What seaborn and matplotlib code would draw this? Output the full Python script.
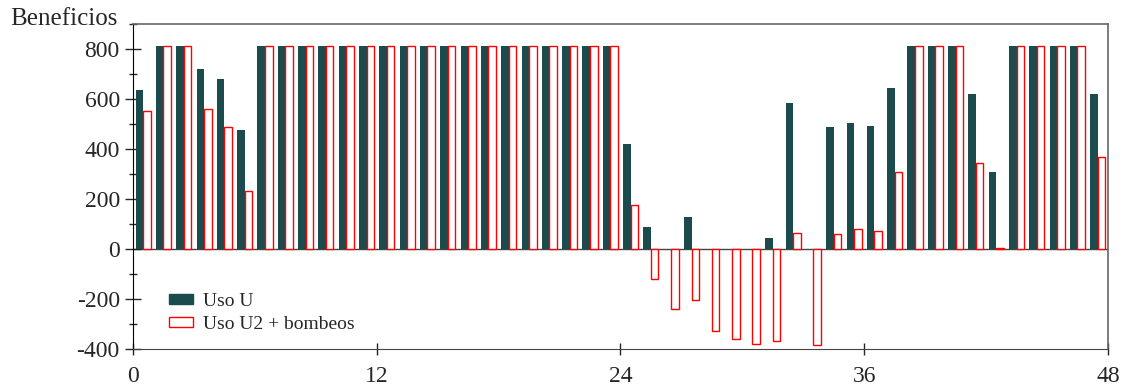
import numpy as np
import pandas as pd
import matplotlib
matplotlib.use("Agg")
import matplotlib.pyplot as plt
from matplotlib.patches import Patch
from matplotlib.ticker import MultipleLocator
import seaborn as sns

# hourly profits, 48 hours
horas = np.arange(1, 49)
uso_u = [636, 812, 812, 720, 681, 476, 812, 812, 812, 812, 812, 812,
         812, 812, 812, 812, 812, 812, 812, 812, 812, 812, 812, 812,
         420, 88, 0, 128, 0, 0, 0, 45, 584, 0, 488, 504,
         491, 645, 812, 812, 812, 620, 308, 812, 812, 812, 812, 620]
uso_u2 = [551, 812, 812, 561, 487, 232, 812, 812, 812, 812, 812, 812,
          812, 812, 812, 812, 812, 812, 812, 812, 812, 812, 812, 812,
          177, -120, -241, -205, -328, -360, -381, -367, 64, -385, 59, 80,
          72, 309, 812, 812, 812, 344, 5, 812, 812, 812, 812, 367]
series = ["Uso U", "Uso U2 + bombeos"]
dark = "#1b4b4d"

df = pd.DataFrame({
    "hora": np.concatenate([horas, horas]) - 0.5,
    "valor": uso_u + uso_u2,
    "serie": [series[0]] * 48 + [series[1]] * 48,
})

sns.set_style("ticks")
plt.rcParams["font.family"] = ["Liberation Serif", "DejaVu Serif"]
plt.rcParams["axes.unicode_minus"] = False

fig, ax = plt.subplots(figsize=(11.23, 3.87), dpi=100)
fig.subplots_adjust(left=0.1184, right=0.9866, top=0.938, bottom=0.098)

sns.barplot(data=df, x="hora", y="valor", hue="serie", native_scale=True,
            palette=[dark, "white"], width=0.74, legend=False, ax=ax,
            errorbar=None, linewidth=0, saturation=1)

# second series: hollow red bars
for p in ax.containers[1]:
    p.set_facecolor("white")
    p.set_edgecolor("red")
    p.set_linewidth(1.0)

ax.axhline(0, color="#444444", lw=1.0, zorder=0.5)

ax.set_xlim(0, 48)
ax.set_ylim(-400, 900)
ax.set_xticks([0, 12, 24, 36, 48])
ax.yaxis.set_major_locator(MultipleLocator(200))
ax.yaxis.set_minor_locator(MultipleLocator(100))
ax.set_yticks(np.arange(-400, 801, 200))
ax.set_xlabel("")
ax.set_ylabel("")

ax.tick_params(axis="y", which="major", direction="inout", length=11, width=1,
               labelsize=17, pad=4)
ax.tick_params(axis="y", which="minor", direction="inout", length=6, width=1)
ax.tick_params(axis="x", which="major", direction="inout", length=8, width=1,
               labelsize=17, pad=8)

for side in ["top", "right"]:
    ax.spines[side].set_visible(True)
    ax.spines[side].set_color("#666666")
    ax.spines[side].set_linewidth(1.2)
ax.spines["left"].set_color("black")
ax.spines["bottom"].set_color("#444444")

fig.text(0.009, 0.951, "Beneficios", fontsize=18, ha="left", va="center")

handles = [Patch(facecolor=dark, edgecolor=dark, label=series[0]),
           Patch(facecolor="white", edgecolor="red", lw=1, label=series[1])]
ax.legend(handles=handles, loc="lower left", bbox_to_anchor=(0.019, -0.004),
          frameon=False, fontsize=14, handlelength=1.25, handleheight=0.45,
          labelspacing=0.3, handletextpad=0.5)

fig.savefig("out.png", dpi=100)
